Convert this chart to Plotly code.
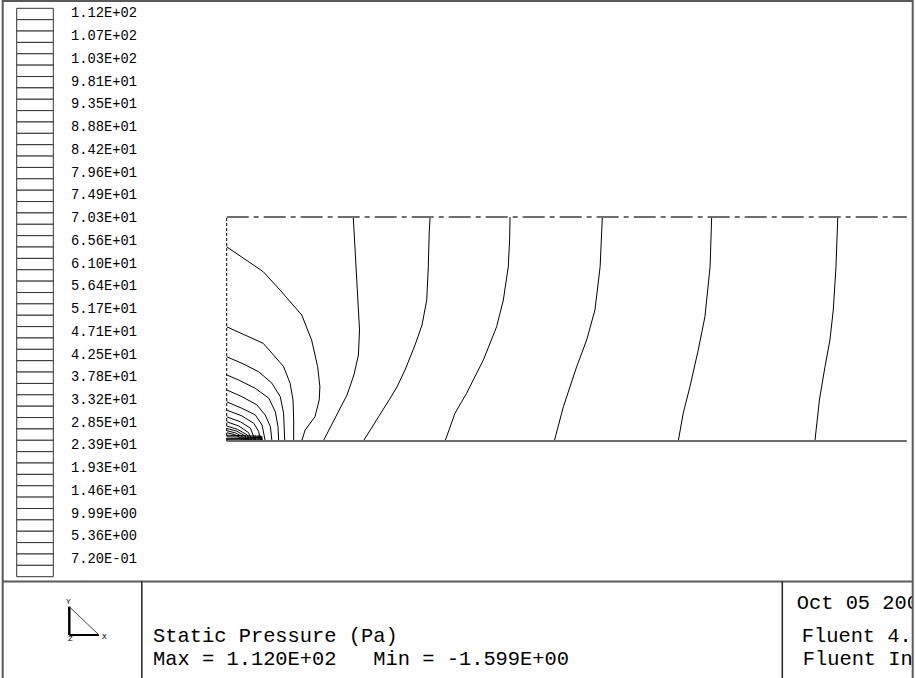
import plotly.graph_objects as go

W, H = 916, 678

# colour-scale labels (top to bottom), one per two levels
legend_labels = [
    "1.12E+02", "1.07E+02", "1.03E+02", "9.81E+01", "9.35E+01",
    "8.88E+01", "8.42E+01", "7.96E+01", "7.49E+01", "7.03E+01",
    "6.56E+01", "6.10E+01", "5.64E+01", "5.17E+01", "4.71E+01",
    "4.25E+01", "3.78E+01", "3.32E+01", "2.85E+01", "2.39E+01",
    "1.93E+01", "1.46E+01", "9.99E+00", "5.36E+00", "7.20E-01",
]
n_levels = 50

title_text = "Static Pressure (Pa)"
range_text = "Max = 1.120E+02\u00a0\u00a0\u00a0Min = -1.599E+00"
stamp_lines = ["Oct 05 2000", "Fluent 4.48", "Fluent Inc."]

# channel geometry (units of channel height)
domain_length = 3.036
domain_height = 1.0

# isobars, from outlet side towards the leading edge
c1_x = [2.728, 2.720, 2.708, 2.693, 2.671, 2.646, 2.626]
c1_y = [1.0, 0.778, 0.585, 0.451, 0.332, 0.183, 0.0]
c2_x = [2.165, 2.158, 2.135, 2.105, 2.068, 2.038, 2.016]
c2_y = [1.0, 0.778, 0.555, 0.406, 0.242, 0.124, 0.0]
c3_x = [1.677, 1.673, 1.667, 1.644, 1.607, 1.5625, 1.503, 1.4625]
c3_y = [1.0, 0.897, 0.778, 0.585, 0.451, 0.332, 0.153, 0.0]
c4_x = [1.265, 1.263, 1.257, 1.235, 1.205, 1.146, 1.071, 1.019, 0.975]
c4_y = [1.0, 0.897, 0.778, 0.629, 0.510, 0.362, 0.213, 0.124, 0.0]
c5_x = [0.908, 0.904, 0.900, 0.893, 0.872, 0.841, 0.796, 0.760, 0.725, 0.689, 0.640, 0.610]
c5_y = [1.0, 0.928, 0.778, 0.629, 0.518, 0.429, 0.317, 0.241, 0.183, 0.125, 0.049, 0.0]
c6_x = [0.565, 0.571, 0.579, 0.588, 0.593, 0.588, 0.568, 0.537, 0.497, 0.461, 0.431]
c6_y = [1.0, 0.897, 0.763, 0.629, 0.496, 0.384, 0.295, 0.205, 0.129, 0.0625, 0.0]
c7_x = [0.0, 0.163, 0.238, 0.335, 0.379, 0.406, 0.416, 0.413, 0.394, 0.350, 0.335]
c7_y = [0.867, 0.756, 0.674, 0.5625, 0.451, 0.332, 0.242, 0.183, 0.108, 0.049, 0.0]
c8_x = [0.0, 0.163, 0.202, 0.254, 0.283, 0.296, 0.299, 0.299]
c8_y = [0.510, 0.436, 0.392, 0.332, 0.258, 0.183, 0.094, 0.0]
c9_x = [0.0, 0.068, 0.143, 0.202, 0.239, 0.254, 0.259]
c9_y = [0.376, 0.347, 0.309, 0.258, 0.198, 0.124, 0.0]
c10_x = [0.0, 0.054, 0.128, 0.188, 0.217, 0.229, 0.232]
c10_y = [0.295, 0.272, 0.235, 0.191, 0.131, 0.064, 0.0]
c11_x = [0.0, 0.068, 0.135, 0.172, 0.195, 0.202]
c11_y = [0.228, 0.198, 0.161, 0.116, 0.064, 0.0]
c12_x = [0.0, 0.068, 0.128, 0.158, 0.172]
c12_y = [0.175, 0.146, 0.116, 0.071, 0.0]
c13_x = [0.0, 0.068, 0.121, 0.143, 0.150]
c13_y = [0.138, 0.112, 0.079, 0.042, 0.0]
c14_x = [0.0, 0.061, 0.106, 0.128]
c14_y = [0.108, 0.086, 0.057, 0.0]
c15_x = [0.0, 0.054, 0.098, 0.113]
c15_y = [0.086, 0.067, 0.037, 0.0]
c16_x = [0.0, 0.048, 0.092, 0.102]
c16_y = [0.067, 0.052, 0.027, 0.0]
c17_x = [0.0, 0.045, 0.082, 0.090]
c17_y = [0.056, 0.044, 0.022, 0.0]
c18_x = [0.0, 0.040, 0.072, 0.079]
c18_y = [0.046, 0.036, 0.018, 0.0]
c19_x = [0.0, 0.035, 0.062, 0.068]
c19_y = [0.037, 0.029, 0.014, 0.0]

# crowded isobars hugging the wall near the leading edge
band_y = [0.026, 0.019, 0.012, 0.006]
band_end_x = 0.157
tick_x = [0.083, 0.095, 0.107, 0.118, 0.129, 0.140, 0.150]
tick_top = 0.025

contours = [
    (c1_x, c1_y), (c2_x, c2_y), (c3_x, c3_y), (c4_x, c4_y), (c5_x, c5_y),
    (c6_x, c6_y), (c7_x, c7_y), (c8_x, c8_y), (c9_x, c9_y), (c10_x, c10_y),
    (c11_x, c11_y), (c12_x, c12_y), (c13_x, c13_y), (c14_x, c14_y),
    (c15_x, c15_y), (c16_x, c16_y), (c17_x, c17_y), (c18_x, c18_y),
    (c19_x, c19_y),
]

# page layout (pixels)
SCALE = 224.0
ORIGIN_X, ORIGIN_Y = 226.7, 441.0
MONO = "Courier New, Liberation Mono, monospace"
FRAME = "#5a5a5a"


def px(x):
    return x / W


def py(y):
    return 1 - y / H


fig = go.Figure()

line_style = dict(color="black", width=1)
for cx, cy in contours:
    fig.add_scatter(x=cx, y=cy, mode="lines", line=line_style,
                    hoverinfo="skip", showlegend=False)

for by in band_y:
    fig.add_scatter(x=[0, band_end_x, band_end_x], y=[by, by * 0.8, 0],
                    mode="lines", line=line_style, hoverinfo="skip", showlegend=False)

tx, ty = [], []
for t in tick_x:
    tx += [t, t, None]
    ty += [0, tick_top, None]
fig.add_scatter(x=tx, y=ty, mode="lines", line=line_style,
                hoverinfo="skip", showlegend=False)

# boundaries: inlet (dashed), symmetry (dash-dot), wall (solid)
fig.add_scatter(x=[0, 0], y=[0, domain_height], mode="lines",
                line=dict(color="black", width=1, dash="3px,2px"),
                hoverinfo="skip", showlegend=False)
fig.add_scatter(x=[0, domain_length], y=[domain_height, domain_height], mode="lines",
                line=dict(color="#6e6e6e", width=2, dash="22px,5px,5px,5px"),
                hoverinfo="skip", showlegend=False)
fig.add_scatter(x=[0, domain_length], y=[0, 0], mode="lines",
                line=dict(color="#6e6e6e", width=2),
                hoverinfo="skip", showlegend=False)

# stamp text, clipped by its own little panel
fig.add_scatter(x=[796.7, 801.7, 802.7], y=[604, 637, 660], text=stamp_lines,
                mode="text", textposition="middle right", cliponaxis=True,
                textfont=dict(family=MONO, size=20.4, color="black"),
                xaxis="x2", yaxis="y2", hoverinfo="skip", showlegend=False)

shapes = []
# outer frame and panel dividers
shapes.append(dict(type="rect", xref="paper", yref="paper",
                   x0=px(2.7), x1=px(912.7), y0=py(681), y1=py(1),
                   line=dict(color=FRAME, width=2)))
shapes.append(dict(type="line", xref="paper", yref="paper",
                   x0=px(2.7), x1=px(912.7), y0=py(581.5), y1=py(581.5),
                   line=dict(color=FRAME, width=2)))
for xd in (141.8, 782.3):
    shapes.append(dict(type="line", xref="paper", yref="paper",
                       x0=px(xd), x1=px(xd), y0=py(581.5), y1=py(681),
                       line=dict(color="#222", width=1.5)))

# colour-scale boxes
box_top, box_bot = 8.3, 576.7
box_h = (box_bot - box_top) / n_levels
for i in range(n_levels):
    shapes.append(dict(type="rect", xref="paper", yref="paper",
                       x0=px(16.7), x1=px(53.3),
                       y0=py(box_top + (i + 1) * box_h), y1=py(box_top + i * box_h),
                       line=dict(color="#333", width=1), fillcolor="white"))

# axis triad
shapes.append(dict(type="line", xref="paper", yref="paper",
                   x0=px(69.3), x1=px(69.3), y0=py(606.7), y1=py(635),
                   line=dict(color="black", width=2.5)))
shapes.append(dict(type="line", xref="paper", yref="paper",
                   x0=px(69.3), x1=px(99), y0=py(635), y1=py(635),
                   line=dict(color="black", width=2)))
shapes.append(dict(type="line", xref="paper", yref="paper",
                   x0=px(69.3), x1=px(99), y0=py(606.7), y1=py(635),
                   line=dict(color="#444", width=1)))

annotations = []
for k, lab in enumerate(legend_labels):
    yc = box_top + box_h * (2 * k + 0.5)
    annotations.append(dict(text=lab, xref="paper", yref="paper",
                            x=px(69), y=py(yc), xanchor="left", yanchor="middle",
                            showarrow=False,
                            font=dict(family=MONO, size=13.75, color="black")))

for txt, xx, yy in (("Y", 68.3, 601), ("Z", 70, 638.5), ("X", 104.3, 636)):
    annotations.append(dict(text=txt, xref="paper", yref="paper",
                            x=px(xx), y=py(yy), xanchor="center", yanchor="middle",
                            showarrow=False,
                            font=dict(family=MONO, size=8, color="black")))

annotations.append(dict(text=title_text, xref="paper", yref="paper",
                        x=px(150.5), y=py(636.3), xanchor="left", yanchor="middle",
                        showarrow=False, font=dict(family=MONO, size=20.4, color="black")))
annotations.append(dict(text=range_text, xref="paper", yref="paper",
                        x=px(150.5), y=py(659.7), xanchor="left", yanchor="middle",
                        showarrow=False, font=dict(family=MONO, size=20.4, color="black")))

fig.update_layout(
    width=W, height=H,
    margin=dict(l=0, r=0, t=0, b=0, pad=0),
    paper_bgcolor="white", plot_bgcolor="rgba(0,0,0,0)",
    xaxis=dict(domain=[0, 1], range=[-ORIGIN_X / SCALE, (W - ORIGIN_X) / SCALE],
               visible=False, fixedrange=True),
    yaxis=dict(domain=[0, 1], range=[(ORIGIN_Y - H) / SCALE, ORIGIN_Y / SCALE],
               visible=False, fixedrange=True),
    xaxis2=dict(domain=[px(782.3), px(912)], range=[782.3, 912],
                visible=False, fixedrange=True),
    yaxis2=dict(domain=[0, py(581.5)], range=[H, 581.5],
                visible=False, fixedrange=True),
    shapes=shapes,
    annotations=annotations,
)

fig.write_html("out.html", config={"displayModeBar": False},
               post_script="document.body.style.margin='0';")
